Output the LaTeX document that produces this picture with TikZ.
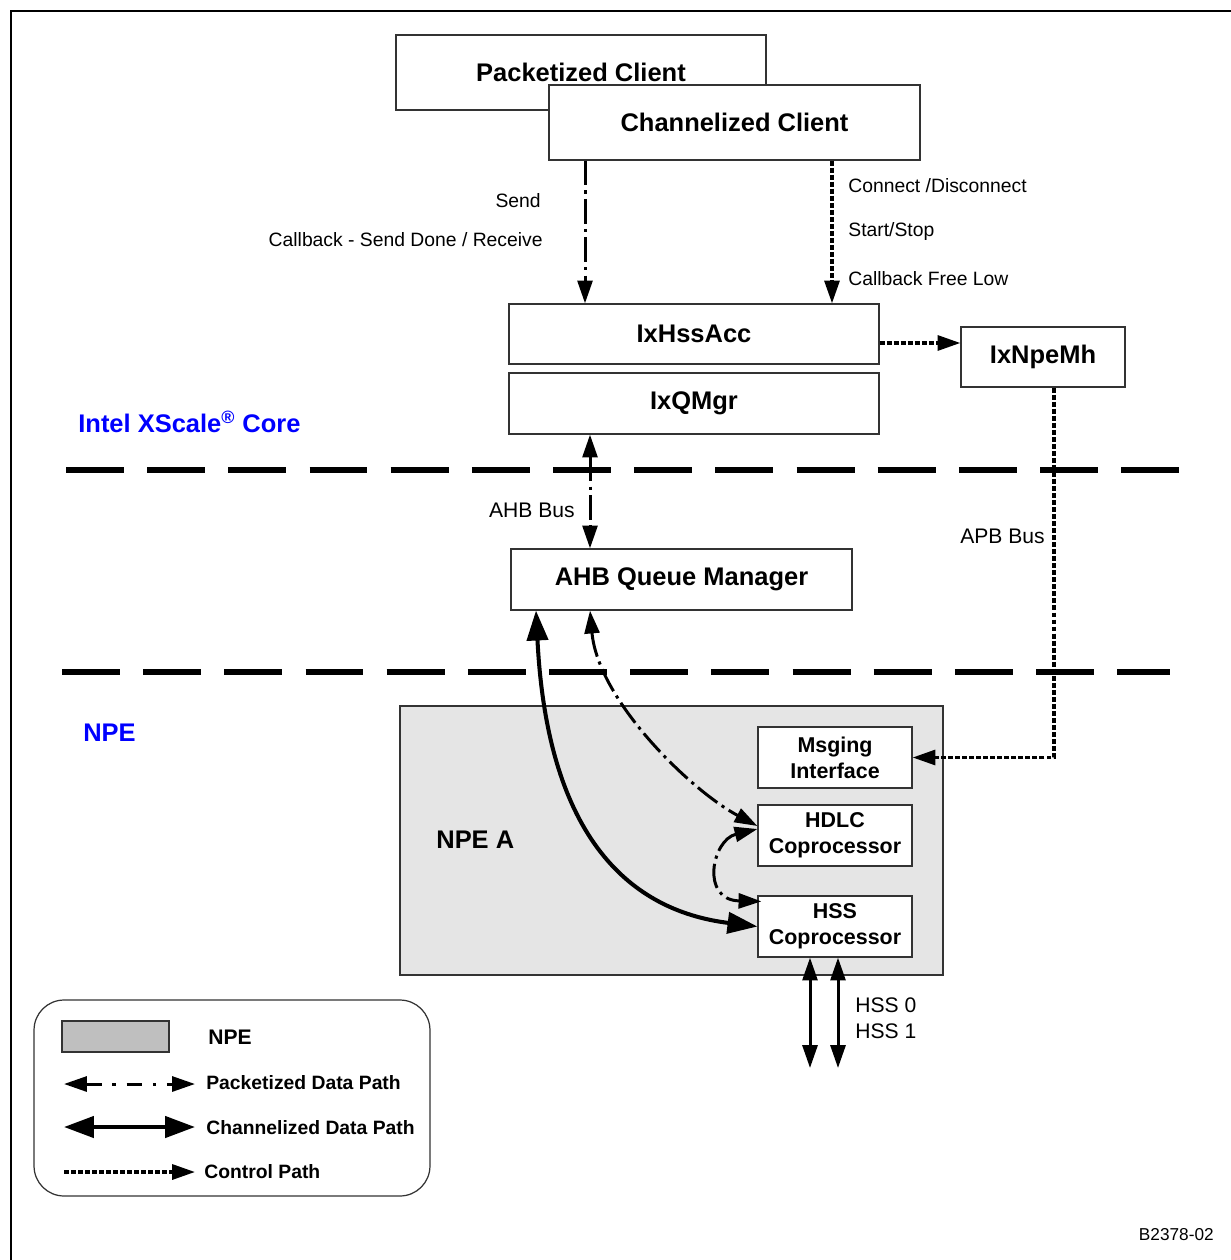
\documentclass[tikz,border=0pt]{standalone}
\usepackage{fontspec}
\setmainfont{Liberation Sans}
\usetikzlibrary{arrows.meta}
\definecolor{npegray}{gray}{0.9}
\definecolor{keygray}{gray}{0.75}
\definecolor{coreblue}{rgb}{0,0,1}

\begin{document}
\begin{tikzpicture}[x=0.02cm, y=-0.02cm,
    blk/.style={draw=black!80, line width=0.7pt, fill=white,
                font=\fontsize{14.5}{17}\selectfont\bfseries},
    cop/.style={draw=black!80, line width=0.7pt, fill=white, align=center,
                minimum width=3.08cm, minimum height=1.22cm,
                font=\fontsize{12.2}{14.7}\selectfont\bfseries},
    lbl/.style={font=\fontsize{11}{13}\selectfont, inner sep=0pt},
    keytxt/.style={font=\fontsize{11}{13}\selectfont\bfseries, inner sep=0pt, anchor=west},
    region/.style={text=coreblue, font=\fontsize{14.5}{17}\selectfont\bfseries, inner sep=0pt, anchor=west},
    pkt/.style={line width=1.7pt, dash pattern=on 14pt off 3pt on 1.8pt off 3pt},
    chn/.style={line width=2.3pt},
    ctl/.style={line width=1.9pt, dash pattern=on 2.8pt off 1.2pt},
    sep/.style={line width=3.4pt, dash pattern=on 33pt off 13.2pt},
    head/.tip={Triangle[length=13pt,width=8.5pt]},
    bighead/.tip={Triangle[length=17pt,width=12pt]}
  ]
  \useasboundingbox (0,0) rectangle (1230,1260);

  \coordinate (frameBL) at (11,1262);
  \coordinate (frameTR) at (1232,11);
  \draw[line width=1.2pt] (frameBL) |- (frameTR);

  % clients and xscale side
  \node[blk, minimum width=7.4cm,  minimum height=1.5cm]  (pkt)   at (581,72.5)   {Packetized Client};
  \node[blk, minimum width=7.42cm, minimum height=1.5cm]  (chan)  at (734.5,122.5) {Channelized Client};
  \node[blk, minimum width=7.4cm,  minimum height=1.2cm]  (hss)   at (694,334)    {IxHssAcc};
  \node[blk, minimum width=7.4cm,  minimum height=1.22cm] (qmgr)  at (694,403.5)  {IxQMgr};
  \node[blk, minimum width=3.28cm, minimum height=1.2cm]  (npemh) at (1043,357)   {IxNpeMh};
  \node[blk, minimum width=6.82cm, minimum height=1.22cm] (ahbqm) at (681.5,579.5) {AHB Queue Manager};

  \node[region] (corelbl) at (78,422) {Intel XScale\textsuperscript{®} Core};
  \node[region] (npelbl)  at (83,733) {NPE};

  \coordinate (sepAL) at (66,470);
  \coordinate (sepAR) at (1182,470);
  \coordinate (sepBL) at (62,672);
  \coordinate (sepBR) at (1170,672);
  \draw[sep] (sepAL) -- (sepAR);
  \draw[sep] (sepBL) -- (sepBR);

  % npe a
  \node[draw=black!80, line width=0.7pt, fill=npegray, minimum width=10.86cm, minimum height=5.38cm] (npea) at (671.5,840.5) {};
  \node[font=\fontsize{14.5}{17}\selectfont\bfseries, inner sep=0pt, anchor=west] (npealbl) at (436,840) {NPE A};
  \node[cop] (msg)    at (835,757.5) {Msging\\Interface};
  \node[cop] (hdlc)   at (835,835.5) {HDLC\\Coprocessor};
  \node[cop] (hsscop) at (835,926.5) {HSS\\Coprocessor};

  % client calls
  \draw[pkt, -head] (chan.south -| 585,0) -- (hss.north -| 585,0);
  \draw[ctl, -head] (chan.south -| 832,0) -- (hss.north -| 832,0);
  \node[lbl, anchor=east] (sendlbl) at (541,201) {Send};
  \node[lbl, anchor=east] (cblbl)   at (543,240) {Callback - Send Done / Receive};
  \node[lbl, anchor=west] (conlbl)  at (848,186) {Connect /Disconnect};
  \node[lbl, anchor=west] (runlbl)  at (848,232) {Start/Stop};
  \node[lbl, anchor=west] (freelbl) at (848,279) {Callback Free Low};

  \draw[ctl, -head] (hss.east |- 0,343) -- (npemh.west |- 0,343);

  % buses
  \draw[pkt, head-head] (qmgr.south -| 590,0) -- (ahbqm.north -| 590,0);
  \node[lbl, font=\fontsize{12}{14}\selectfont, anchor=east] (ahblbl) at (575,510) {AHB Bus};
  \draw[ctl, -head] (npemh.south -| 1054,0) |- (msg.east);
  \node[lbl, font=\fontsize{12}{14}\selectfont, anchor=east] (apblbl) at (1045,536) {APB Bus};

  % data paths into the npe
  \draw[chn, bighead-bighead] (ahbqm.south -| 536,0)
        .. controls (548,850) and (640,912) .. (hsscop.west);
  \draw[pkt, head-head] (ahbqm.south -| 590,0)
        .. controls (598,700) and (690,790) .. (hdlc.west |- 0,826);
  \draw[pkt, head-head] (hdlc.west |- 0,829)
        .. controls (712,840) and (700,900) .. ([shift={(4,6)}]hsscop.north west);

  % hss ports
  \coordinate (port0) at (810,1068);
  \coordinate (port1) at (838,1068);
  \draw[line width=1.7pt, head-head] (hsscop.south -| port0) -- (port0);
  \draw[line width=1.7pt, head-head] (hsscop.south -| port1) -- (port1);
  \node[lbl, font=\fontsize{12}{14}\selectfont, anchor=west] (hss0lbl) at (855,1005) {HSS 0};
  \node[lbl, font=\fontsize{12}{14}\selectfont, anchor=west] (hss1lbl) at (855,1031) {HSS 1};

  % legend
  \node[draw=black!80, line width=0.7pt, rounded corners=0.6cm, minimum width=7.92cm, minimum height=3.92cm] (key) at (232,1098) {};
  \node[draw=black!80, line width=0.7pt, fill=keygray, minimum width=2.14cm, minimum height=0.62cm] (keynpe) at (115.5,1036.5) {};
  \node[keytxt, font=\fontsize{12}{14}\selectfont\bfseries] (keynpelbl) at (208,1037) {NPE};
  \coordinate (keyAL) at (64,1084);
  \coordinate (keyAR) at (195,1084);
  \coordinate (keyBL) at (64,1127);
  \coordinate (keyBR) at (195,1127);
  \coordinate (keyCL) at (64,1172);
  \coordinate (keyCR) at (195,1172);
  \draw[pkt, dash pattern=on 9pt off 6pt on 2pt off 6pt, head-head] (keyAL) -- (keyAR);
  \draw[chn, bighead-bighead] (keyBL) -- (keyBR);
  \draw[ctl, -head] (keyCL) -- (keyCR);
  \node[keytxt] (keyAlbl) at (206,1083) {Packetized Data Path};
  \node[keytxt] (keyBlbl) at (206,1128) {Channelized Data Path};
  \node[keytxt] (keyClbl) at (204,1172) {Control Path};

  \node[lbl, font=\fontsize{9.8}{12}\selectfont, anchor=east] (figno) at (1214,1235) {B2378-02};
\end{tikzpicture}
\end{document}
